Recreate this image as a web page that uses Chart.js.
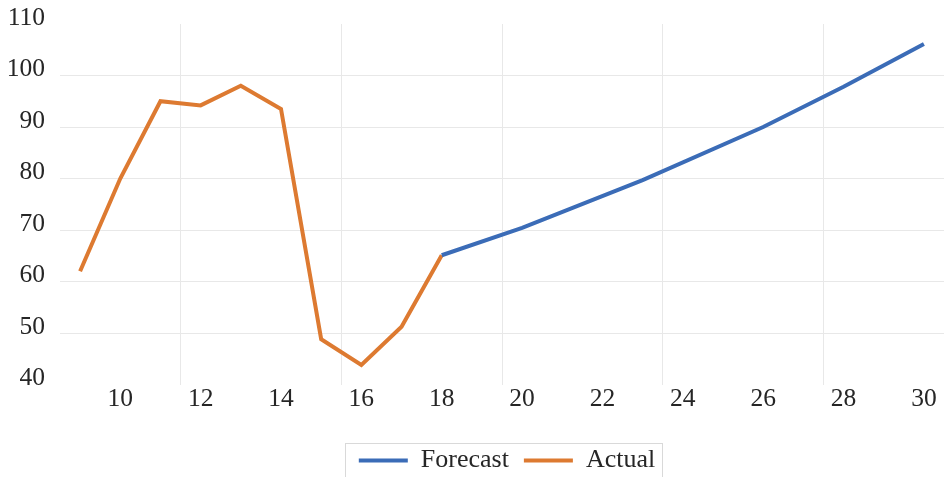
<!DOCTYPE html>
<html>
<head>
<meta charset="utf-8">
<script src="https://cdn.jsdelivr.net/npm/chart.js@4.4.1/dist/chart.umd.min.js"></script>
<style>
  html, body { margin: 0; padding: 0; background: #fff; }
  #wrap { width: 944px; height: 477px; }
</style>
</head>
<body>
<div id="wrap"><canvas id="c" width="944" height="477"></canvas></div>
<script>
// ---- data ----
const actualX = [9, 10, 11, 12, 13, 14, 15, 16, 17, 18];
const actualY = [62.0, 80.0, 95.0, 94.2, 98.0, 93.5, 48.8, 43.8, 51.2, 65.1];
const forecastX = [18, 20, 23, 26, 28, 30];
const forecastY = [65.1, 70.4, 79.7, 90.0, 97.8, 106.1];
const xTickLabels = [10, 12, 14, 16, 18, 20, 22, 24, 26, 28, 30];
const yTickLabels = [40, 50, 60, 70, 80, 90, 100, 110];
const xGridLines = [11.5, 15.5, 19.5, 23.5, 27.5];

const toPts = (xs, ys) => xs.map((x, i) => ({ x: x, y: ys[i] }));

const FONT = "'Liberation Serif', 'Times New Roman', serif";
const TEXT = '#262626';
const GRID = '#e8e8e8';
const BLUE = '#3B6CB7';
const ORANGE = '#DD7A31';

const legendTweak = {
  id: 'legendTweak',
  afterLayout(chart) {
    const lg = chart.legend;
    if (lg) { lg.left += 5; lg.right += 5; }
  },
  afterDraw(chart) {
    const lg = chart.legend;
    if (!lg || !lg.legendHitBoxes || !lg.legendHitBoxes.length) return;
    const boxes = lg.legendHitBoxes;
    const first = boxes[0], last = boxes[boxes.length - 1];
    const ctx = chart.ctx;
    ctx.save();
    ctx.strokeStyle = '#d9d9d9';
    ctx.lineWidth = 1;
    const l = first.left - 14, r = last.left + last.width + 7;
    const t = first.top - 4.5, b = first.top + first.height + 40;
    ctx.strokeRect(Math.round(l) + 0.5, Math.round(t) + 0.5, Math.round(r - l), Math.round(b - t));
    ctx.restore();
  }
};

new Chart(document.getElementById('c'), {
  type: 'line',
  data: {
    datasets: [
      {
        label: 'Forecast',
        data: toPts(forecastX, forecastY),
        borderColor: BLUE,
        backgroundColor: BLUE,
        borderWidth: 4,
        pointRadius: 0,
        tension: 0
      },
      {
        label: 'Actual',
        data: toPts(actualX, actualY),
        borderColor: ORANGE,
        backgroundColor: ORANGE,
        borderWidth: 4,
        pointRadius: 0,
        tension: 0
      }
    ]
  },
  options: {
    responsive: false,
    animation: false,
    events: [],
    layout: { padding: { top: 0, left: 0, right: 0, bottom: -6.5 } },
    scales: {
      x: {
        type: 'linear',
        min: 8.5,
        max: 30.5,
        afterBuildTicks(scale) { scale.ticks = xTickLabels.map(v => ({ value: v })); },
        afterFit(scale) { scale.height = 48; },
        ticks: {
          autoSkip: false,
          maxRotation: 0,
          padding: -1,
          color: TEXT,
          font: { family: FONT, size: 25.5 },
          callback: v => String(v)
        },
        grid: { display: false, drawTicks: false },
        border: { display: false }
      },
      xg: {
        type: 'linear',
        position: 'bottom',
        min: 8.5,
        max: 30.5,
        afterBuildTicks(scale) { scale.ticks = xGridLines.map(v => ({ value: v })); },
        afterFit(scale) { scale.height = 0; },
        ticks: { display: false },
        grid: { display: true, color: GRID, lineWidth: 1, drawTicks: false },
        border: { display: false }
      },
      y: {
        type: 'linear',
        min: 40,
        max: 110,
        afterBuildTicks(scale) { scale.ticks = yTickLabels.map(v => ({ value: v })); },
        afterFit(scale) {
          scale.width = 60;
          scale.paddingTop = 24;
          scale.paddingBottom = 0;
        },
        ticks: {
          padding: 15,
          labelOffset: -6,
          color: TEXT,
          font: { family: FONT, size: 25.5 },
          callback: v => String(v)
        },
        grid: {
          drawTicks: false,
          lineWidth: 1,
          color: ctx => (ctx.tick && (ctx.tick.value === 40 || ctx.tick.value === 110)) ? 'rgba(0,0,0,0)' : GRID
        },
        border: { display: false }
      }
    },
    plugins: {
      legend: {
        position: 'bottom',
        fullSize: false,
        labels: {
          boxWidth: 49,
          boxHeight: 4,
          padding: 15,
          color: TEXT,
          font: { family: FONT, size: 26 },
          generateLabels(chart) {
            const items = Chart.defaults.plugins.legend.labels.generateLabels(chart);
            items.forEach(it => { it.lineWidth = 0; it.strokeStyle = 'rgba(0,0,0,0)'; });
            return items;
          }
        }
      },
      tooltip: { enabled: false }
    }
  },
  plugins: [legendTweak]
});
</script>
</body>
</html>
